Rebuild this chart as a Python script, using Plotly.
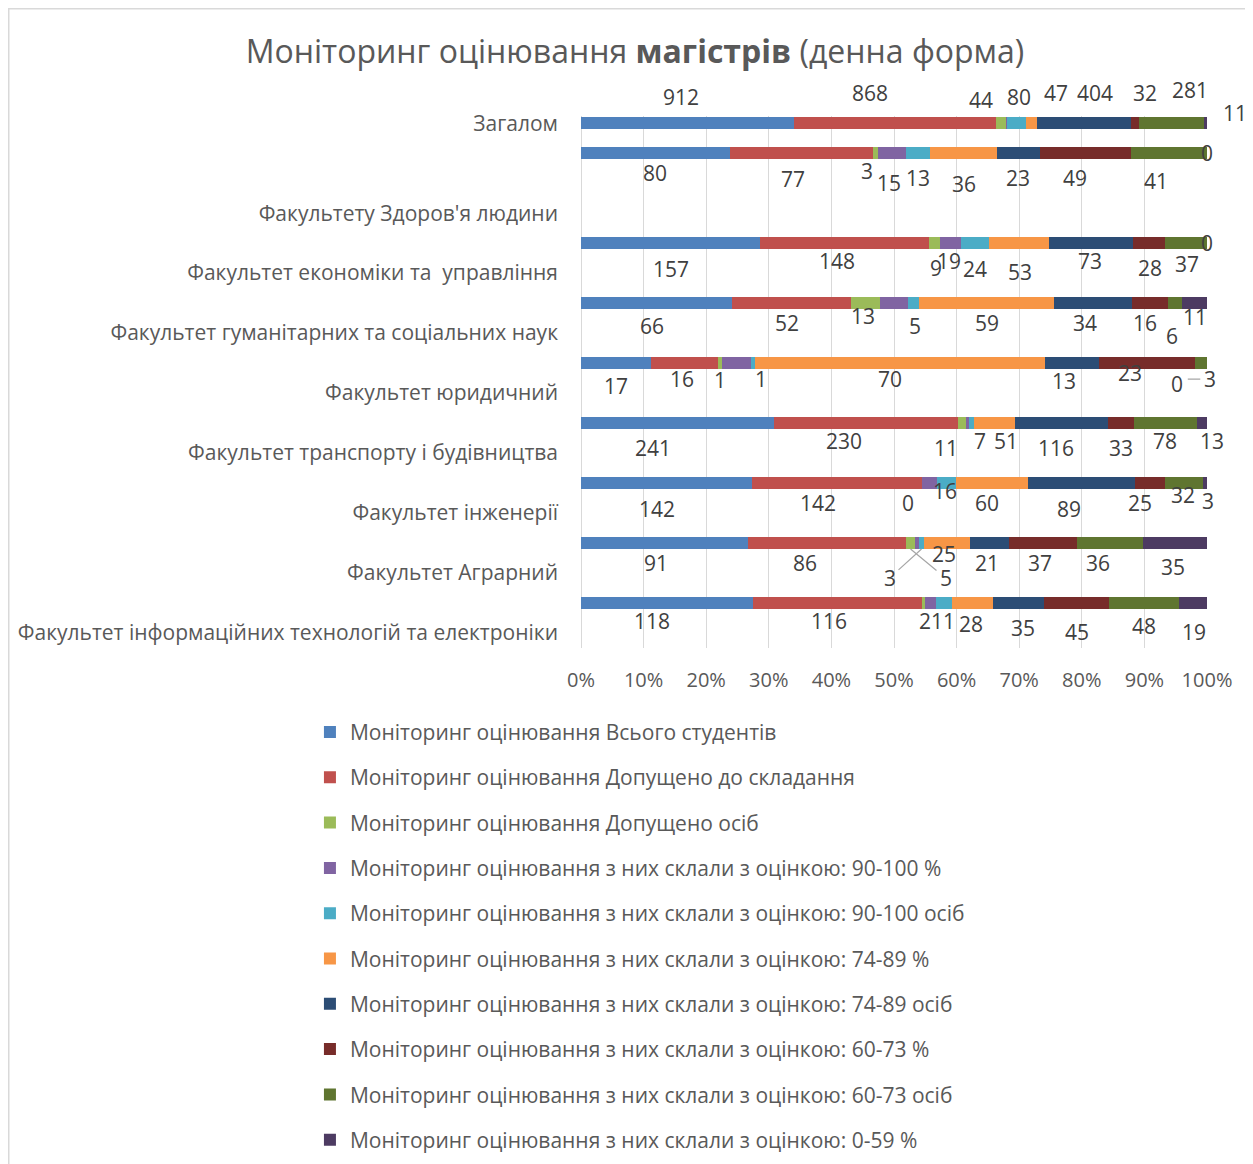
import plotly.graph_objects as go

# ---------------- DATA ----------------
categories = [
    "Факультет інформаційних технологій та електроніки",
    "Факультет Аграрний",
    "Факультет інженерії",
    "Факультет транспорту і будівництва",
    "Факультет юридичний",
    "Факультет гуманітарних та соціальних наук",
    "Факультет економіки та  управління",
    "Факультету Здоров'я людини",
    "Загалом",
]

series_names = [
    "Моніторинг оцінювання Всього студентів",
    "Моніторинг оцінювання Допущено до складання",
    "Моніторинг оцінювання Допущено осіб",
    "Моніторинг оцінювання з них склали з оцінкою: 90-100 %",
    "Моніторинг оцінювання з них склали з оцінкою: 90-100 осіб",
    "Моніторинг оцінювання з них склали з оцінкою: 74-89 %",
    "Моніторинг оцінювання з них склали з оцінкою: 74-89 осіб",
    "Моніторинг оцінювання з них склали з оцінкою: 60-73 %",
    "Моніторинг оцінювання з них склали з оцінкою: 60-73 осіб",
    "Моніторинг оцінювання з них склали з оцінкою: 0-59 %",
]

vsogo_studentiv   = [118, 91, 142, 241, 17, 66, 157, 80, 912]
dopushcheno_skl   = [116, 86, 142, 230, 16, 52, 148, 77, 868]
dopushcheno_osib  = [2, 5, 0, 11, 1, 13, 9, 3, 44]
ocinka_90_100_pct = [8, 2, 12, 3, 7, 12, 19, 15, 3]
ocinka_90_100_os  = [11, 3, 16, 7, 1, 5, 24, 13, 80]
ocinka_74_89_pct  = [28, 25, 60, 51, 70, 59, 53, 36, 47]
ocinka_74_89_os   = [35, 21, 89, 116, 13, 34, 73, 23, 404]
ocinka_60_73_pct  = [45, 37, 25, 33, 23, 16, 28, 49, 32]
ocinka_60_73_os   = [48, 36, 32, 78, 3, 6, 37, 41, 281]
ocinka_0_59_pct   = [19, 35, 3, 13, 0, 11, 0, 0, 11]

series_values = [
    vsogo_studentiv, dopushcheno_skl, dopushcheno_osib, ocinka_90_100_pct,
    ocinka_90_100_os, ocinka_74_89_pct, ocinka_74_89_os, ocinka_60_73_pct,
    ocinka_60_73_os, ocinka_0_59_pct,
]

x_tick_vals = [0, 10, 20, 30, 40, 50, 60, 70, 80, 90, 100]
x_tick_text = ["0%", "10%", "20%", "30%", "40%", "50%", "60%", "70%", "80%", "90%", "100%"]

# ---------------- LAYOUT / STYLE ----------------
colors = ["#4F81BD", "#C0504D", "#9BBB59", "#8064A2", "#4BACC6",
          "#F79646", "#2C4D75", "#772C2A", "#5F7530", "#4D3B62"]

BAR_POS = [0, 1, 2, 3, 4, 5, 6, 7.5, 8]          # row positions of bars
LABEL_POS = [-0.5, 0.5, 1.5, 2.5, 3.5, 4.5, 5.5, 6.5, 8]  # category text positions

FONT = "Open Sans"
AXIS_COLOR = "#595959"
LABEL_COLOR = "#404040"

# label nudges in px: (dx, dy) with dy positive = down; None = hidden;
# (dx, dy, ax, ay) = label with leader line (tip offset, text offset from tip)
NUDGE = {
    8: [(-6, -26), (-25, -30), (-21, -23), None, (2, -26), (24, -30), (11, -30), (10, -30), (18, -33), (29, -10)],
    7: [(0, 20), (-8, 26), (-8, 18), (-3, 30), (0, 25), (0, 31), (0, 25), (-10, 25), (-13, 28), (0, 0)],
    6: [(0, 26), (-8, 18), (1, 25), (-2, 18), (0, 26), (1, 29), (-1, 18), (1, 25), (1, 21), (0, 0)],
    5: [(-4, 23), (-4, 20), (-2, 13), None, (2, 23), (0, 20), (-8, 20), (-5, 20), (-3, 33), (1, 14)],
    4: [(0, 23), (-3, 16), (0, 17), None, (8, 16), (-10, 16), (-8, 18), (-17, 10), (-13, 16, 22, 0), (-30, 21)],
    3: [(-24, 25), (-22, 18), (-16, 25), None, (8, 18), (11, 18), (-5, 25), (0, 25), (0, 18), (10, 18)],
    2: [(-9, 26), (-19, 20), (-14, 20), None, (-1, 8), (-5, 20), (-12, 26), (-10, 20), (-1, 12), (3, 18)],
    1: [(-9, 20), (-22, 20), (0, 6, 35, 29), None, (0, 6, -32, 29), (-3, 11), (-2, 20), (-3, 20), (-12, 20), (-2, 24)],
    0: [(-15, 18), (-8, 18), (2, 18), None, (-1, 18), (-2, 21), (5, 25), (0, 29), (0, 23), (1, 29)],
}

fig = go.Figure()
for i, (name, vals, col) in enumerate(zip(series_names, series_values, colors)):
    fig.add_trace(go.Bar(
        y=BAR_POS, x=vals, orientation="h", name=name,
        marker=dict(color=col, line=dict(width=0)),
        width=0.2, legendgroup=f"g{i}",
    ))

annotations = []
n_rows = len(categories)
for r in range(n_rows):
    total = sum(s[r] for s in series_values)
    cum = 0
    for k, s in enumerate(series_values):
        v = s[r]
        mid = (cum + v / 2) / total * 100
        cum += v
        nd = NUDGE[r][k]
        if nd is None:
            continue
        base = dict(x=mid, y=BAR_POS[r], xref="x", yref="y", text=str(v),
                    font=dict(family=FONT, size=21, color=LABEL_COLOR))
        if len(nd) == 2:
            base.update(showarrow=False, xshift=nd[0], yshift=-nd[1])
        else:
            base.update(showarrow=True, arrowhead=0, arrowwidth=1.2,
                        arrowcolor="#A6A6A6", xshift=nd[0], yshift=-nd[1],
                        ax=nd[2], ay=nd[3], standoff=0, startstandoff=2)
        annotations.append(base)

W, H = 1245, 1156
L, R, T, B = 573, 46, 108, 516
PW, PH = W - L - R, H - T - B
fig.update_layout(
    width=W, height=H,
    paper_bgcolor="white", plot_bgcolor="white",
    barmode="stack", barnorm="percent",
    margin=dict(l=L, r=R, t=T, b=B, autoexpand=False),
    title=dict(
        text="Моніторинг оцінювання <b>магістрів</b> (денна форма)",
        x=627 / W, xanchor="center", y=1 - 44 / H, yanchor="middle",
        yref="container",
        font=dict(family=FONT, size=32, color=AXIS_COLOR),
    ),
    xaxis=dict(
        range=[0, 100], tickvals=x_tick_vals, ticktext=x_tick_text,
        showgrid=True, gridcolor="#D9D9D9", gridwidth=1,
        zeroline=True, zerolinecolor="#D9D9D9", zerolinewidth=1,
        showline=False, ticks="", ticklabelstandoff=18,
        tickfont=dict(family=FONT, size=20, color=AXIS_COLOR),
        fixedrange=True,
    ),
    yaxis=dict(
        range=[-0.75, 8.12], tickvals=LABEL_POS, ticktext=categories,
        showgrid=False, zeroline=False, showline=False, ticks="",
        ticklabelstandoff=22,
        tickfont=dict(family=FONT, size=21, color=AXIS_COLOR),
        fixedrange=True,
    ),
    legend=dict(
        orientation="v", x=-0.433, xanchor="left", y=-0.12, yanchor="top",
        traceorder="grouped", tracegroupgap=15,
        font=dict(family=FONT, size=21, color=AXIS_COLOR),
        bgcolor="rgba(0,0,0,0)",
    ),
    annotations=annotations,
    shapes=[dict(type="rect", xref="paper", yref="paper",
                 x0=(0.75 - L) / PW, x1=(W + 20 - L) / PW,
                 y0=-(B + 20) / PH, y1=(PH + T - 0.75) / PH,
                 line=dict(color="#D9D9D9", width=1.5), layer="below")],
    showlegend=True,
)

fig.write_html("out.html")
